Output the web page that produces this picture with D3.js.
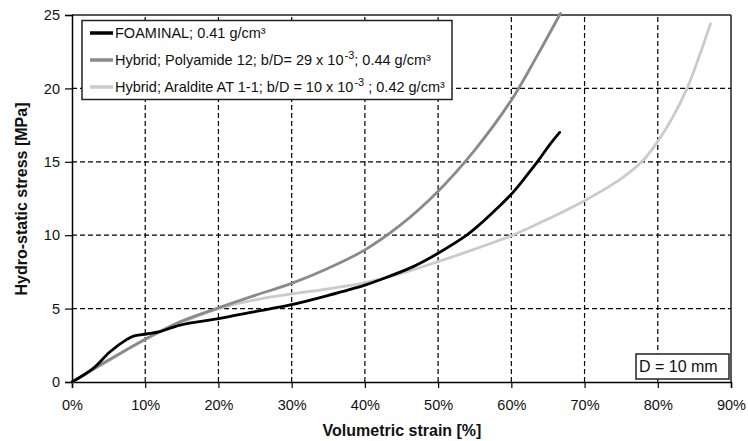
<!DOCTYPE html>
<html><head><meta charset="utf-8">
<script src="https://cdn.jsdelivr.net/npm/d3@7"></script>
<style>body{margin:0;background:#fff}svg{display:block}text{font-family:"Liberation Sans",Arial,sans-serif}</style>
</head><body><svg id="c" width="748" height="441"></svg>
<script>
const xTicks = [0,10,20,30,40,50,60,70,80,90];
const yTicks = [0,5,10,15,20,25];

const foaminalStrain = [0,2.9,5.2,7.5,8.4,10.2,12,14.75,20.2,25,29.8,35,40,42,46.6,50,53.9,55.5,58,60.2,62,63.7,65.3,66.6];
const foaminalStress = [0,0.93,2.06,2.9,3.13,3.27,3.43,3.88,4.34,4.8,5.25,5.9,6.6,6.95,7.86,8.77,10.0,10.65,11.8,12.9,14.0,15.1,16.2,17.0];

const polyamideStrain = [0,5,10.2,14.75,20,25,30,35,40,45,50,55,60,63.5,66.7];
const polyamideStress = [0,1.5,2.97,4.1,5.05,5.9,6.72,7.75,9.0,10.75,13.0,15.8,19.2,22.2,25.1];

const alalditeStrain = [0,5,10,15,20,25,30,35,40,45,50,55,60.2,65,70,75,78,80,82,84,85.6,87.2];
const alalditeStress = [0,1.45,2.9,4.05,5.0,5.6,6.0,6.35,6.77,7.4,8.2,9.05,10.0,11.1,12.35,13.85,15.1,16.4,18.0,20.0,22.1,24.4];

const seriesNames = ["FOAMINAL; 0.41 g/cm³","Hybrid; Polyamide 12; b/D= 29 x 10","Hybrid; Araldite AT 1-1; b/D = 10 x 10"];
const seriesColors = ["#000000","#8a8a8a","#cbcbcb"];

const svg = d3.select("#c");
const x = d3.scaleLinear().domain([0,90]).range([72,731]);
const y = d3.scaleLinear().domain([0,25]).range([382,15]);

// grid
const g = svg.append("g");
g.selectAll(".vg").data(xTicks.filter(d=>d>0&&d<90)).enter().append("line")
  .attr("x1",d=>x(d)).attr("x2",d=>x(d)).attr("y1",y(0)).attr("y2",y(25))
  .attr("stroke","#000").attr("stroke-width",1.2).attr("stroke-dasharray","5,3");
g.selectAll(".hg").data(yTicks.filter(d=>d>0&&d<25)).enter().append("line")
  .attr("x1",x(0)).attr("x2",x(90)).attr("y1",d=>y(d)).attr("y2",d=>y(d))
  .attr("stroke","#000").attr("stroke-width",1.2).attr("stroke-dasharray","5,3");

// frame top/right
svg.append("line").attr("x1",x(0)).attr("x2",x(90)).attr("y1",y(25)).attr("y2",y(25)).attr("stroke","#222").attr("stroke-width",1.5);
svg.append("line").attr("x1",x(90)).attr("x2",x(90)).attr("y1",y(25)).attr("y2",y(0)).attr("stroke","#222").attr("stroke-width",1.5);

// axes
const xAxis = d3.axisBottom(x).tickValues(xTicks).tickFormat(d=>d+"%").tickSize(6).tickPadding(12);
const yAxis = d3.axisLeft(y).tickValues(yTicks).tickFormat(d3.format("d")).tickSize(7).tickPadding(5);
const gx = svg.append("g").attr("transform",`translate(0,${y(0)})`).call(xAxis);
const gy = svg.append("g").attr("transform",`translate(${x(0)},0)`).call(yAxis);
[gx,gy].forEach(a=>{
  a.select(".domain").attr("stroke","#000").attr("stroke-width",1.5);
  a.selectAll(".tick line").attr("stroke","#000").attr("stroke-width",1.2);
  a.selectAll(".tick text").attr("fill","#111").style("font-size","14.5px").style("font-family","Liberation Sans, Arial, sans-serif");
});

// curves
const line = d3.line().x(d=>x(d[0])).y(d=>y(d[1])).curve(d3.curveCatmullRom.alpha(0.5));
const series = [
  {xs:alalditeStrain, ys:alalditeStress, c:seriesColors[2]},
  {xs:polyamideStrain, ys:polyamideStress, c:seriesColors[1]},
  {xs:foaminalStrain, ys:foaminalStress, c:seriesColors[0]}
];
series.forEach(s=>{
  svg.append("path").datum(d3.zip(s.xs,s.ys)).attr("d",line)
    .attr("fill","none").attr("stroke",s.c).attr("stroke-width",2.8).attr("stroke-linejoin","round").attr("stroke-linecap","round");
});

// legend
const lg = svg.append("g");
lg.append("rect").attr("x",82).attr("y",20.5).attr("width",370).attr("height",79).attr("fill","#fff").attr("stroke","#222").attr("stroke-width",1.5);
const rowsY = [33,60,87];
rowsY.forEach((ry,i)=>{
  lg.append("line").attr("x1",90).attr("x2",113).attr("y1",ry).attr("y2",ry).attr("stroke",seriesColors[i]).attr("stroke-width",3.5);
});
const fs = "14.5px";
const t0 = lg.append("text").attr("x",115).attr("y",rowsY[0]+5).style("font-size",fs).attr("fill","#111").text(seriesNames[0]);
const t1 = lg.append("text").attr("x",115).attr("y",rowsY[1]+5).style("font-size",fs).attr("fill","#111");
t1.append("tspan").text(seriesNames[1]);
t1.append("tspan").attr("dy",-6).attr("dx",1).style("font-size","11px").text("-3");
t1.append("tspan").attr("dy",6).text("; 0.44 g/cm³");
const t2 = lg.append("text").attr("x",115).attr("y",rowsY[2]+5).style("font-size",fs).attr("fill","#111");
t2.append("tspan").text(seriesNames[2]);
t2.append("tspan").attr("dy",-6).attr("dx",1).style("font-size","11px").text("-3");
t2.append("tspan").attr("dy",6).text(" ; 0.42 g/cm³");

// D = 10 mm box
svg.append("rect").attr("x",636).attr("y",354).attr("width",93).attr("height",25).attr("fill","#fff").attr("stroke","#222").attr("stroke-width",1.5);
svg.append("text").attr("x",639).attr("y",372).style("font-size","16px").attr("fill","#111").text("D = 10 mm");

// axis titles
svg.append("text").attr("x",402).attr("y",436).attr("text-anchor","middle").style("font-size","16px").style("font-weight","bold").attr("fill","#111").text("Volumetric strain [%]");
svg.append("text").attr("transform","translate(27,199) rotate(-90)").attr("text-anchor","middle").style("font-size","16px").style("font-weight","bold").attr("fill","#111").text("Hydro-static stress [MPa]");
</script></body></html>
